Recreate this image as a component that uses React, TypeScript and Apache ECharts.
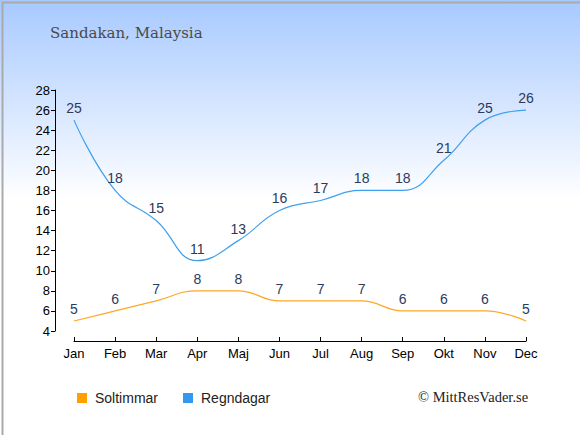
import React, { useEffect, useRef } from "react";
import * as echarts from "echarts";

const months = ["Jan", "Feb", "Mar", "Apr", "Maj", "Jun", "Jul", "Aug", "Sep", "Okt", "Nov", "Dec"];
const sunHours = [5, 6, 7, 8, 8, 7, 7, 7, 6, 6, 6, 5];
const rainDays = [25, 18, 15, 11, 13, 16, 17, 18, 18, 21, 25, 26];
const yTicks = { min: 4, max: 28, interval: 2 };

export default function App() {
  const ref = useRef<HTMLDivElement>(null);
  useEffect(() => {
    document.body.style.margin = "0";
    const chart = echarts.init(ref.current!, null, { renderer: "svg" });
    const labelStyle = { show: true, position: "top", distance: 5, color: "#2a3b5c", fontSize: 14, fontFamily: "Liberation Sans, Arial, sans-serif" };
    chart.setOption({
      animation: false,
      backgroundColor: {
        type: "linear", x: 0, y: 0, x2: 0, y2: 1,
        colorStops: [
          { offset: 0, color: "#a7c9ff" },
          { offset: 0.46, color: "#ffffff" },
          { offset: 1, color: "#ffffff" },
        ],
      },
      title: {
        text: "Sandakan, Malaysia",
        left: 45, top: 20,
        textStyle: { fontFamily: "DejaVu Serif", fontWeight: "normal", fontSize: 15, color: "#4a4a4a" },
      },
      legend: {
        left: 72, top: 386,
        itemWidth: 10, itemHeight: 10, itemGap: 25,
        icon: "rect",
        textStyle: { fontFamily: "Liberation Sans, Arial, sans-serif", fontSize: 14, color: "#222", padding: [0, 0, 0, 3] },
        data: ["Soltimmar", "Regndagar"],
      },
      grid: { left: 74, right: 54, top: 90, bottom: 104 },
      xAxis: {
        type: "category", data: months, boundaryGap: false, offset: 10,
        axisLine: { lineStyle: { color: "#000", width: 1 } },
        axisTick: { inside: true, length: 4, lineStyle: { color: "#000" } },
        axisLabel: { color: "#000", fontSize: 13, fontFamily: "Liberation Sans, Arial, sans-serif", margin: 6 },
      },
      yAxis: {
        type: "value", min: yTicks.min, max: yTicks.max, interval: yTicks.interval, offset: 19,
        axisLine: { show: true, lineStyle: { color: "#000", width: 1 } },
        axisTick: { show: true, length: 4, lineStyle: { color: "#000" } },
        axisLabel: { color: "#000", fontSize: 13, fontFamily: "Liberation Sans, Arial, sans-serif", margin: 5 },
        splitLine: { show: false },
      },
      series: [
        {
          name: "Soltimmar", type: "line", data: sunHours, smooth: 0.45,
          symbol: "circle", symbolSize: 0.1, showSymbol: true,
          itemStyle: { color: "#ffa000" },
          lineStyle: { color: "#ffa726", width: 1.2 },
          label: labelStyle,
        },
        {
          name: "Regndagar", type: "line", data: rainDays, smooth: 0.45,
          symbol: "circle", symbolSize: 0.1, showSymbol: true,
          itemStyle: { color: "#3399ee" },
          lineStyle: { color: "#3fa0f0", width: 1.2 },
          label: labelStyle,
        },
      ],
      graphic: [
        {
          type: "text", left: 418, top: 389,
          style: { text: "© MittResVader.se", font: "14.5px 'Liberation Serif'", fill: "#222" },
        },
        {
          type: "rect", left: 0, top: 0,
          shape: { x: 0, y: 0, width: 579, height: 434 },
          style: { fill: "none", stroke: "#aaaaaa", lineWidth: 2 },
          silent: true,
        },
      ],
    });
    return () => chart.dispose();
  }, []);
  return <div ref={ref} style={{ width: 580, height: 435 }} />;
}
